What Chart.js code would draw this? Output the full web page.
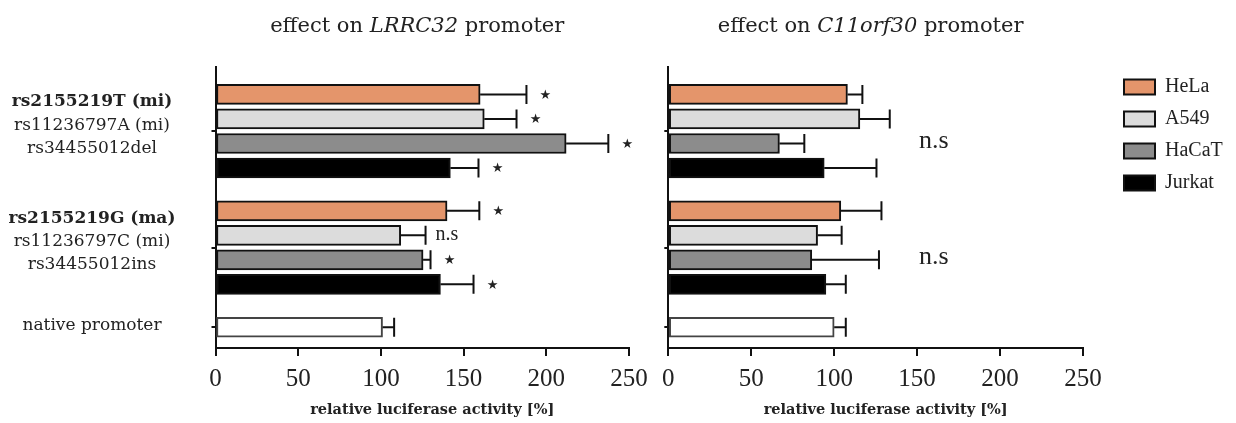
<!DOCTYPE html>
<html><head><meta charset="utf-8">
<script src="https://cdn.jsdelivr.net/npm/chart.js@4/dist/chart.umd.min.js"></script>
<style>
html,body{margin:0;padding:0;background:#fff;}
#wrap{position:relative;width:1236px;height:423px;overflow:hidden;background:#fff;}
.box{position:absolute;top:0;height:423px;}
#b1{left:0;width:650px;}
#b2{left:650px;width:586px;}
</style></head><body>
<div id="wrap"><div class="box" id="b1"><canvas id="c1"></canvas></div><div class="box" id="b2"><canvas id="c2"></canvas></div></div>
<script>
// ---------- data ----------
const cellLines = ['HeLa', 'A549', 'HaCaT', 'Jurkat'];
const cellColors = ['#E4956B', '#DCDCDC', '#8C8C8C', '#000000'];
const groupLabels = [
  ['rs2155219T (mi)', 'rs11236797A (mi)', 'rs34455012del'],
  ['rs2155219G (ma)', 'rs11236797C (mi)', 'rs34455012ins'],
  ['native promoter']
];
const boldFirstLine = [true, true, false];
const xTicks = [0, 50, 100, 150, 200, 250];
const axisTitle = 'relative luciferase activity [%]';
const title1 = ['effect on ', 'LRRC32', ' promoter'];
const title2 = ['effect on ', 'C11orf30', ' promoter'];

// LRRC32 promoter: values per cell line (HeLa, A549, HaCaT, Jurkat)
const lrrcMeanG1 = [160, 162.5, 212, 142];
const lrrcErrG1  = [28, 19.5, 25.5, 17];
const lrrcSigG1  = ['*', '*', '*', '*'];
const lrrcMeanG2 = [140, 112, 125.5, 136];
const lrrcErrG2  = [19.5, 15, 4.5, 20];
const lrrcSigG2  = ['*', 'n.s', '*', '*'];
const lrrcNative = 101;
const lrrcNativeErr = 7;

// C11orf30 promoter
const c11MeanG1 = [108, 115.5, 67, 94];
const c11ErrG1  = [9, 18, 15, 31.5];
const c11MeanG2 = [104, 90, 86.5, 95];
const c11ErrG2  = [24.5, 14.5, 40.5, 12];
const c11Native = 100;
const c11NativeErr = 7;
const c11GroupSig = ['n.s', 'n.s'];

// ---------- layout helpers ----------
const GAP = 0.75;
function pos(g, i) { return g * (cellLines.length + GAP) + i; }
const groupCenters = [pos(0, 1.5), pos(1, 1.5), pos(2, 0)];
const Y_MIN = -1.12, Y_MAX = 10.347;

function makeDatasets(means, errs, sigs, nativeMean, nativeErr) {
  const common = { borderWidth: 2, borderSkipped: false, grouped: false, barThickness: 20, maxBarThickness: 20 };
  const ds = cellLines.map((name, i) => Object.assign({
    label: name,
    data: means.map((arr, g) => ({ x: arr[i], y: pos(g, i) })),
    errors: errs.map(arr => arr[i]),
    sig: sigs ? sigs.map(arr => arr[i]) : [],
    backgroundColor: cellColors[i],
    borderColor: '#111'
  }, common));
  ds.push(Object.assign({
    label: 'native promoter',
    data: [{ x: nativeMean, y: pos(2, 0) }],
    errors: [nativeErr],
    sig: [],
    backgroundColor: '#ffffff',
    borderColor: '#444'
  }, common));
  return ds;
}

const overlay = {
  id: 'overlay',
  afterDatasetsDraw(chart, args, opts) {
    const ctx = chart.ctx, xs = chart.scales.x, ys = chart.scales.y;
    ctx.save();
    chart.data.datasets.forEach((ds, di) => {
      const meta = chart.getDatasetMeta(di);
      meta.data.forEach((bar, j) => {
        const v = ds.data[j].x, e = ds.errors[j];
        const x0 = xs.getPixelForValue(v), x1 = xs.getPixelForValue(v + e), y = bar.y;
        ctx.strokeStyle = '#111'; ctx.lineWidth = 2;
        ctx.beginPath();
        ctx.moveTo(x0, y); ctx.lineTo(x1, y);
        ctx.moveTo(x1, y - 9.5); ctx.lineTo(x1, y + 9.5);
        ctx.stroke();
        const s = ds.sig[j];
        ctx.fillStyle = '#222';
        if (s === '*') {
          ctx.font = '13px "DejaVu Sans"';
          ctx.textAlign = 'center'; ctx.textBaseline = 'middle';
          ctx.fillText('★', x1 + 19, y + 1);
        } else if (s === 'n.s') {
          ctx.font = '20px "Liberation Serif"';
          ctx.textAlign = 'left'; ctx.textBaseline = 'middle';
          ctx.fillText('n.s', x1 + 10, y - 1);
        }
      });
    });
    if (opts.groupSig) {
      ctx.fillStyle = '#222';
      ctx.font = '26px "Liberation Serif"';
      ctx.textAlign = 'center'; ctx.textBaseline = 'middle';
      opts.groupSig.forEach((s, g) => {
        ctx.fillText(s, xs.getPixelForValue(160), ys.getPixelForValue(pos(g, 1.9)));
      });
    }
    ctx.restore();
  },
  afterDraw(chart, args, opts) {
    const ctx = chart.ctx, ca = chart.chartArea;
    ctx.save();
    ctx.fillStyle = '#222';
    // panel title with italic gene name
    if (opts.title) {
      const fonts = opts.title.map((t, k) => (k === 1 ? 'italic ' : '') + '21px "DejaVu Serif"');
      let total = 0;
      const widths = opts.title.map((t, k) => { ctx.font = fonts[k]; const w = ctx.measureText(t).width; total += w; return w; });
      let x = (ca.left + ca.right) / 2 - 5 - total / 2;
      ctx.textAlign = 'left'; ctx.textBaseline = 'alphabetic';
      opts.title.forEach((t, k) => { ctx.font = fonts[k]; ctx.fillText(t, x, 32); x += widths[k]; });
    }
    // x axis title
    ctx.font = 'bold 14.5px "DejaVu Serif"';
    ctx.textAlign = 'center'; ctx.textBaseline = 'middle';
    ctx.fillText(axisTitle, (ca.left + ca.right) / 2 + 10, 410);
    // category labels
    if (opts.yLabels) {
      const ys = chart.scales.y;
      ctx.textAlign = 'center'; ctx.textBaseline = 'middle';
      groupLabels.forEach((lines, g) => {
        const cy = ys.getPixelForValue(groupCenters[g]) - (lines.length > 1 ? 6 : 2);
        lines.forEach((line, k) => {
          ctx.font = (k === 0 && boldFirstLine[g] ? 'bold ' : '') + '17px "DejaVu Serif"';
          ctx.fillText(line, 92, cy + (k - (lines.length - 1) / 2) * 23.3);
        });
      });
    }
    ctx.restore();
  }
};

const legendShift = {
  id: 'legendShift',
  afterLayout(chart, args, opts) {
    const L = chart.legend;
    if (L) {
      L.left += opts.dx || 0; L.right += opts.dx || 0;
      L.top += opts.dy || 0; L.bottom += opts.dy || 0;
    }
  }
};

function makeOptions(yWidth, xPadRight, extra) {
  return {
    indexAxis: 'y',
    responsive: true,
    maintainAspectRatio: false,
    animation: false,
    events: [],
    layout: { padding: { top: 67, left: 0, right: 0, bottom: 0 } },
    scales: {
      x: {
        type: 'linear', min: 0, max: 250, offset: false,
        afterBuildTicks: s => { s.ticks = xTicks.map(v => ({ value: v })); },
        ticks: { font: { family: 'Liberation Serif', size: 25 }, color: '#222', padding: 8, maxRotation: 0, autoSkip: false },
        grid: { display: true, drawOnChartArea: false, drawTicks: true, tickLength: 8, lineWidth: 2, color: '#111' },
        border: { display: true, width: 2, color: '#111' },
        afterFit: s => { s.height = 75; s.paddingRight = xPadRight; }
      },
      y: {
        type: 'linear', min: Y_MIN, max: Y_MAX, reverse: true, offset: false,
        afterBuildTicks: s => { s.ticks = groupCenters.map(v => ({ value: v })); },
        ticks: { display: false },
        grid: { display: true, offset: false, drawOnChartArea: false, drawTicks: true, tickLength: 4, lineWidth: 2, color: '#111' },
        border: { display: true, width: 2, color: '#111' },
        afterFit: s => { s.width = yWidth; }
      }
    },
    plugins: Object.assign({
      tooltip: { enabled: false },
      legend: { display: false }
    }, extra)
  };
}

new Chart(document.getElementById('c1'), {
  type: 'bar',
  data: { datasets: makeDatasets([lrrcMeanG1, lrrcMeanG2], [lrrcErrG1, lrrcErrG2], [lrrcSigG1, lrrcSigG2], lrrcNative, lrrcNativeErr) },
  options: makeOptions(215.5, 21, { overlay: { title: title1, yLabels: true } }),
  plugins: [overlay]
});

new Chart(document.getElementById('c2'), {
  type: 'bar',
  data: { datasets: makeDatasets([c11MeanG1, c11MeanG2], [c11ErrG1, c11ErrG2], null, c11Native, c11NativeErr) },
  options: makeOptions(18.3, 153, {
    overlay: { title: title2, groupSig: c11GroupSig },
    legendShift: { dx: 29, dy: -2 },
    legend: {
      display: true, position: 'right', align: 'start',
      labels: {
        boxWidth: 31, boxHeight: 15, padding: 12, color: '#222',
        font: { family: 'Liberation Serif', size: 20 },
        filter: item => item.datasetIndex < cellLines.length
      }
    }
  }),
  plugins: [overlay, legendShift]
});
</script>
</body></html>
